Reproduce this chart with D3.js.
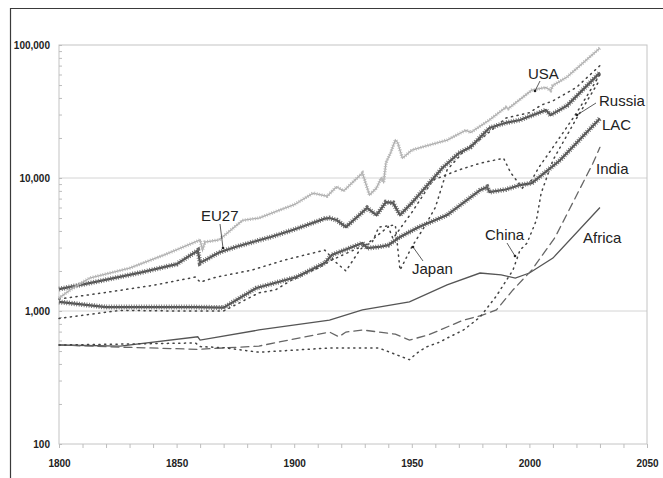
<!DOCTYPE html>
<html>
  <head>
    <meta charset="utf-8">
    <title>GDP per capita 1800-2030</title>
    <script src="https://d3js.org/d3.v7.min.js"></script>
    <style>
      body { margin: 0; background: #fff; }
      text { font-family: "Liberation Sans", Arial, sans-serif; }
    </style>
  </head>
  <body>
    <script>
      // Values (log scale, per capita)
      var usaYears = [1800, 1805, 1813, 1830, 1845, 1860, 1861, 1862, 1868, 1878, 1885, 1894, 1900, 1908, 1914, 1918, 1921, 1928, 1929, 1932, 1935, 1937, 1938, 1939, 1941, 1943, 1944, 1946, 1950, 1955, 1965, 1973, 1975, 1983, 1990, 1991, 2001, 2007, 2009, 2010, 2016, 2030];
      var usaValues = [1250, 1450, 1770, 2100, 2650, 3420, 2870, 3300, 3420, 4800, 5000, 5750, 6300, 7700, 7300, 8600, 8000, 10500, 10900, 7450, 8400, 10000, 9300, 13000, 15500, 19300, 18500, 14100, 16200, 17200, 19300, 22900, 22000, 27300, 34000, 33200, 45700, 48000, 45500, 49700, 57500, 95000];

      var euYears = [1800, 1813, 1835, 1850, 1859, 1860, 1868, 1875, 1890, 1900, 1913, 1915, 1918, 1922, 1931, 1935, 1939, 1942, 1945, 1950, 1963, 1970, 1975, 1983, 1990, 1996, 2007, 2009, 2016, 2030];
      var euValues = [1460, 1620, 1950, 2250, 2850, 2300, 2750, 3030, 3600, 4100, 4950, 5000, 4830, 4280, 5950, 5260, 6580, 6500, 5270, 6500, 11900, 15400, 17100, 23800, 26000, 27300, 32400, 29700, 35000, 62000];

      var lacYears = [1800, 1820, 1858, 1870, 1884, 1901, 1913, 1916, 1929, 1931, 1936, 1940, 1945, 1953, 1965, 1979, 1982, 1983, 1990, 1996, 2001, 2008, 2013, 2030];
      var lacValues = [1170, 1070, 1070, 1060, 1490, 1800, 2300, 2640, 3240, 2970, 3030, 3130, 3600, 4280, 5260, 8100, 8550, 7830, 8200, 8850, 9150, 11500, 13600, 28000];

      var russiaYears = [1800, 1820, 1840, 1858, 1860, 1867, 1882, 1896, 1913, 1918, 1922, 1928, 1940, 1942, 1946, 1950, 1959, 1970, 1979, 1989, 1992, 1997, 2001, 2004, 2010, 2020, 2030];
      var russiaValues = [1230, 1380, 1560, 1800, 1650, 1800, 2030, 2420, 2870, 2300, 2000, 2900, 4300, 3500, 4400, 5500, 9650, 11500, 12900, 14100, 11000, 8400, 9650, 12000, 17000, 30700, 60000];

      var japanYears = [1800, 1826, 1850, 1870, 1885, 1892, 1899, 1911, 1916, 1930, 1933, 1936, 1943, 1945, 1950, 1955, 1960, 1965, 1973, 1980, 1990, 2000, 2005, 2010, 2020, 2030];
      var japanValues = [880, 1010, 1000, 1000, 1370, 1440, 1710, 2140, 2420, 3130, 3240, 4280, 4430, 2030, 3030, 4200, 6000, 11500, 16500, 20000, 28200, 31000, 35300, 38000, 48000, 70000];

      var chinaYears = [1800, 1858, 1860, 1870, 1885, 1915, 1936, 1949, 1952, 1956, 1962, 1965, 1972, 1979, 1986, 1993, 1996, 1999, 2003, 2005, 2010, 2020, 2030];
      var chinaValues = [555, 575, 540, 530, 490, 527, 527, 430, 480, 535, 585, 625, 720, 900, 1300, 2030, 2870, 3240, 4830, 7700, 13600, 28000, 55000];

      var indiaYears = [1800, 1826, 1859, 1885, 1915, 1919, 1922, 1929, 1943, 1949, 1957, 1972, 1980, 1986, 1993, 2001, 2011, 2027, 2030];
      var indiaValues = [555, 535, 515, 545, 695, 640, 695, 720, 670, 605, 660, 855, 930, 1020, 1440, 2030, 3600, 12900, 17000];

      var africaYears = [1800, 1826, 1859, 1860, 1885, 1915, 1929, 1949, 1965, 1979, 1988, 1994, 2000, 2010, 2030];
      var africaValues = [555, 545, 640, 605, 720, 855, 1020, 1170, 1570, 1930, 1870, 1770, 1930, 2500, 6000];

      var yMajor = [100, 1000, 10000, 100000];
      var xMajor = [1800, 1850, 1900, 1950, 2000, 2050];

      var width = 663, height = 478;
      var svg = d3.select("body").append("svg")
                  .attr("width", width)
                  .attr("height", height);

      // outer frame of the figure (runs off the right and bottom edge)
      svg.append("path")
         .attr("d", "M10.5,490 V8.5 H680")
         .attr("fill", "none")
         .attr("stroke", "#3a3a3a")
         .attr("stroke-width", 1.2);

      var x = d3.scaleLinear().domain([1800, 2050]).range([59, 647]);
      var y = d3.scaleLog().domain([100, 100000]).range([444, 45]);

      // gridlines
      svg.append("g")
         .selectAll("line")
         .data(yMajor.slice(1, 3))
         .enter().append("line")
         .attr("x1", x(1800)).attr("x2", x(2050))
         .attr("y1", function(d) { return y(d); })
         .attr("y2", function(d) { return y(d); })
         .attr("stroke", "#d4d4d4");

      // plot border
      svg.append("rect")
         .attr("x", x(1800)).attr("y", y(100000))
         .attr("width", x(2050) - x(1800))
         .attr("height", y(100) - y(100000))
         .attr("fill", "none")
         .attr("stroke", "#c4c4c4");

      // y minor ticks
      var yMinor = [];
      yMajor.slice(0, 3).forEach(function(d) {
        for (var k = 2; k <= 9; k++) yMinor.push(d * k);
      });
      svg.append("g")
         .attr("transform", "translate(" + x(1800) + ",0)")
         .call(d3.axisRight(y).tickValues(yMinor.concat(yMajor)).tickSize(3).tickFormat(""))
         .call(function(g) { g.select(".domain").remove(); })
         .selectAll("line").attr("stroke", "#bdbdbd");

      svg.append("g")
         .attr("transform", "translate(" + x(1800) + ",0)")
         .call(d3.axisLeft(y).tickValues(yMajor).tickSize(0).tickPadding(9).tickFormat(d3.format(",")))
         .call(function(g) { g.select(".domain").remove(); })
         .selectAll("text")
         .attr("font-family", "'Liberation Sans', Arial, sans-serif")
         .attr("font-size", 10)
         .attr("font-weight", "bold")
         .attr("fill", "#222");

      // x axis
      svg.append("g")
         .attr("transform", "translate(0," + y(100) + ")")
         .call(d3.axisBottom(x).tickValues(d3.range(1800, 2051, 10)).tickSize(4).tickFormat(""))
         .call(function(g) { g.select(".domain").remove(); })
         .selectAll("line").attr("stroke", "#bdbdbd");

      svg.append("g")
         .attr("transform", "translate(0," + y(100) + ")")
         .call(d3.axisBottom(x).tickValues(xMajor).tickSize(0).tickPadding(16).tickFormat(d3.format("d")))
         .call(function(g) { g.select(".domain").remove(); })
         .selectAll("text")
         .attr("font-family", "'Liberation Sans', Arial, sans-serif")
         .attr("font-size", 10)
         .attr("font-weight", "bold")
         .attr("fill", "#222");

      var line = d3.line()
                   .x(function(d) { return x(d[0]); })
                   .y(function(d) { return y(d[1]); });

      function pairs(years, values) {
        return years.map(function(yr, i) { return [yr, values[i]]; });
      }

      var series = [
        { name: "Africa", years: africaYears, values: africaValues, color: "#555", width: 1.3, dash: null },
        { name: "India", years: indiaYears, values: indiaValues, color: "#666", width: 1.3, dash: "8,5" },
        { name: "China", years: chinaYears, values: chinaValues, color: "#444", width: 1.5, dash: "1.2,4.5" },
        { name: "Japan", years: japanYears, values: japanValues, color: "#444", width: 1.5, dash: "1.2,4.5" },
        { name: "Russia", years: russiaYears, values: russiaValues, color: "#444", width: 1.5, dash: "1.2,4.5" },
        { name: "LAC", years: lacYears, values: lacValues, color: "#505050", width: 2.2, dash: null, hatch: "#6a6a6a", hatchWidth: 5 },
        { name: "EU27", years: euYears, values: euValues, color: "#505050", width: 2.2, dash: null, hatch: "#6a6a6a", hatchWidth: 5 },
        { name: "USA", years: usaYears, values: usaValues, color: "#acacac", width: 1.3, dash: null, hatch: "#bababa", hatchWidth: 3.5 }
      ];

      series.forEach(function(s) {
        var pts = pairs(s.years, s.values);
        svg.append("path")
           .datum(pts)
           .attr("d", line)
           .attr("fill", "none")
           .attr("stroke", s.color)
           .attr("stroke-width", s.width)
           .attr("stroke-linecap", s.dash ? "round" : "butt")
           .attr("stroke-dasharray", s.dash);
        if (s.hatch) {
          // dense marker texture of the original
          svg.append("path")
             .datum(pts)
             .attr("d", line)
             .attr("fill", "none")
             .attr("stroke", s.hatch)
             .attr("stroke-width", s.hatchWidth)
             .attr("stroke-dasharray", "0.9,1.6");
        }
      });

      // labels with leader lines
      var labels = [
        { text: "USA", x: 528, y: 79, lx1: 540, ly1: 81, lx2: 535, ly2: 91 },
        { text: "Russia", x: 599, y: 106, lx1: 596, ly1: 103, lx2: 577, ly2: 115 },
        { text: "LAC", x: 602, y: 130 },
        { text: "India", x: 596, y: 174 },
        { text: "Africa", x: 583, y: 243 },
        { text: "China", x: 485, y: 240, lx1: 507, ly1: 243, lx2: 515, ly2: 256 },
        { text: "Japan", x: 412, y: 274, lx1: 423, ly1: 261, lx2: 413, ly2: 247 },
        { text: "EU27", x: 201, y: 221, lx1: 220, ly1: 224, lx2: 223, ly2: 248 }
      ];

      labels.forEach(function(l) {
        if (l.lx1 !== undefined) {
          svg.append("line")
             .attr("x1", l.lx1).attr("y1", l.ly1)
             .attr("x2", l.lx2).attr("y2", l.ly2)
             .attr("stroke", "#333")
             .attr("stroke-width", 0.8);
          svg.append("circle")
             .attr("cx", l.lx2).attr("cy", l.ly2).attr("r", 1.3)
             .attr("fill", "#222");
        }
        svg.append("text")
           .attr("x", l.x).attr("y", l.y)
           .style("font-size", "15px")
           .attr("fill", "#222")
           .text(l.text);
      });
    </script>
  </body>
</html>
